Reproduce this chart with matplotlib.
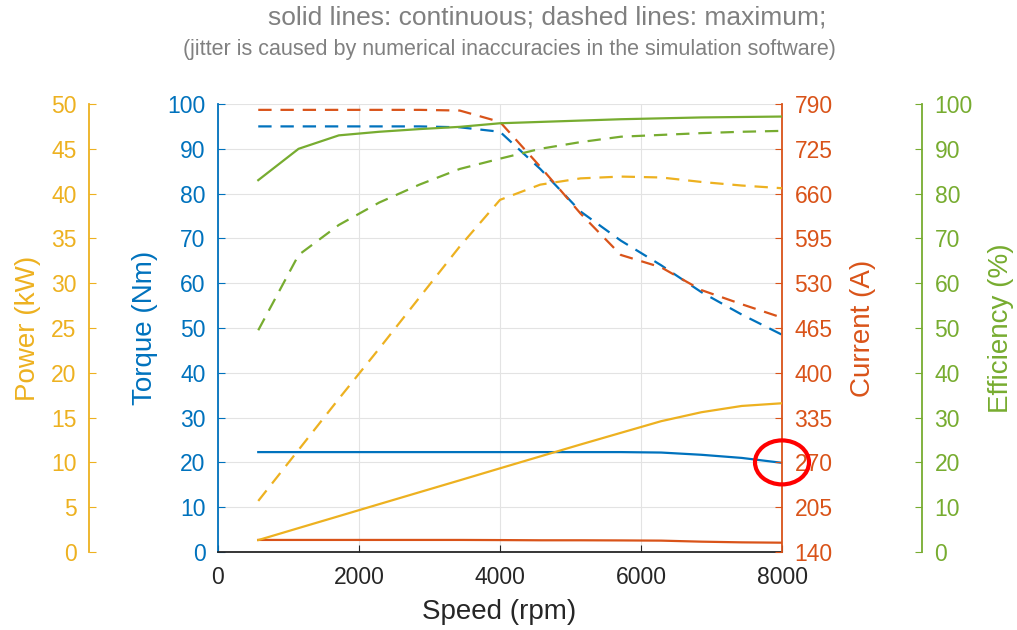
import matplotlib
matplotlib.use("Agg")
import matplotlib.pyplot as plt
from matplotlib.patches import Ellipse

# operating points (rpm)
speed = [571, 1143, 1714, 2286, 2857, 3429, 4000, 4571, 5143, 5714, 6286, 6857, 7429, 8000]

# continuous
torque_cont = [22.3, 22.3, 22.3, 22.3, 22.3, 22.3, 22.3, 22.3, 22.3, 22.3, 22.2, 21.7, 21.0, 19.9]
power_cont = [1.33, 2.67, 4.0, 5.34, 6.67, 8.0, 9.34, 10.67, 12.0, 13.3, 14.6, 15.6, 16.3, 16.6]
current_cont = [157.5, 157.5, 157.5, 157.5, 157.5, 157.5, 157.3, 157.0, 157.0, 156.8, 156.5, 155.0, 154.0, 153.5]
eff_cont = [83.0, 90.0, 93.0, 93.8, 94.4, 94.9, 95.7, 96.0, 96.3, 96.6, 96.8, 97.0, 97.1, 97.2]

# maximum
torque_max = [95.0, 95.0, 95.0, 95.0, 95.0, 94.8, 93.8, 85.5, 76.0, 69.5, 64.0, 58.0, 53.0, 48.5]
power_max = [5.7, 11.4, 17.1, 22.7, 28.4, 34.1, 39.3, 41.0, 41.7, 41.9, 41.8, 41.3, 40.9, 40.6]
current_max = [781.5, 781.5, 781.5, 781.5, 781.5, 780.5, 764.0, 699.0, 631.0, 571.0, 553.0, 520.0, 499.5, 480.0]
eff_max = [49.5, 66.3, 73.0, 78.0, 82.0, 85.5, 87.8, 90.0, 91.5, 92.7, 93.1, 93.5, 93.8, 94.0]

xticks = [0, 2000, 4000, 6000, 8000]
torque_ticks = list(range(0, 101, 10))
power_ticks = list(range(0, 51, 5))
current_ticks = list(range(140, 791, 65))
eff_ticks = list(range(0, 101, 10))

BLUE = "#0072BD"
RED = "#D95319"
YELLOW = "#EDB120"
GREEN = "#77AC30"
GRAY = "#808080"

plt.rcParams["font.family"] = ["Liberation Sans", "DejaVu Sans"]
fs = 16.5
lfs = 20
lw = 1.6
dash = (6, 4)

fig = plt.figure(figsize=(10.17, 6.30), dpi=100)
W, H = 1017, 630
x0, x1, y0, y1 = 218, 782, 104, 552
ax = fig.add_axes([x0 / W, 1 - y1 / H, (x1 - x0) / W, (y1 - y0) / H])


def fx(px):
    # pixel column -> axes fraction
    return (px - x0) / (x1 - x0)


ax_c = ax.twinx()
ax_p = ax.twinx()
ax_e = ax.twinx()

# torque (main)
ax.plot(speed, torque_cont, color=BLUE, lw=lw)
ax.plot(speed, torque_max, color=BLUE, lw=lw, ls="--", dashes=dash)
ax.set_xlim(0, 8000)
ax.set_ylim(0, 100)
ax.set_xticks(xticks)
ax.set_yticks(torque_ticks)
ax.grid(True, color="#e3e3e3", lw=0.8)
ax.set_axisbelow(True)
ax.tick_params(axis="x", direction="in", colors="#262626", labelsize=fs, length=5, pad=10)
ax.tick_params(axis="y", direction="in", colors=BLUE, labelcolor=BLUE, labelsize=fs, length=5, pad=9)
ax.set_xlabel("Speed (rpm)", fontsize=lfs, color="#262626", va="center")
ax.xaxis.set_label_coords(0.498, (y1 - 612) / (y1 - y0))
ax.set_ylabel("Torque (Nm)", fontsize=lfs, color=BLUE, va="center")
ax.yaxis.set_label_coords(fx(145), 0.5)
ax.spines["left"].set_color(BLUE)
ax.spines["left"].set_linewidth(1.3)
ax.spines["bottom"].set_color("#262626")
ax.spines["bottom"].set_linewidth(1.3)
ax.spines["top"].set_visible(False)
ax.spines["right"].set_visible(False)

# current
ax_c.plot(speed, current_cont, color=RED, lw=lw)
ax_c.plot(speed, current_max, color=RED, lw=lw, ls="--", dashes=dash)
ax_c.set_ylim(140, 790)
ax_c.set_yticks(current_ticks)
ax_c.tick_params(axis="y", direction="in", colors=RED, labelcolor=RED, labelsize=fs, length=5, pad=9)
ax_c.set_ylabel("Current (A)", fontsize=lfs, color=RED, va="center")
ax_c.yaxis.set_label_coords(fx(863), 0.5)
for s in ["left", "top", "bottom"]:
    ax_c.spines[s].set_visible(False)
ax_c.spines["right"].set_color(RED)
ax_c.spines["right"].set_linewidth(1.3)

# power (offset left axis)
ax_p.plot(speed, power_cont, color=YELLOW, lw=lw)
ax_p.plot(speed, power_max, color=YELLOW, lw=lw, ls="--", dashes=dash)
ax_p.set_ylim(0, 50)
ax_p.set_yticks(power_ticks)
ax_p.yaxis.set_ticks_position("left")
ax_p.yaxis.set_label_position("left")
ax_p.spines["left"].set_position(("axes", fx(89)))
ax_p.spines["left"].set_visible(True)
ax_p.spines["left"].set_color(YELLOW)
ax_p.spines["left"].set_linewidth(1.3)
for s in ["right", "top", "bottom"]:
    ax_p.spines[s].set_visible(False)
ax_p.tick_params(axis="y", direction="in", colors=YELLOW, labelcolor=YELLOW, labelsize=fs, length=5, pad=9)
ax_p.set_ylabel("Power (kW)", fontsize=lfs, color=YELLOW, va="center")
ax_p.yaxis.set_label_coords(fx(28), 0.5)

# efficiency (offset right axis)
ax_e.plot(speed, eff_cont, color=GREEN, lw=lw)
ax_e.plot(speed, eff_max, color=GREEN, lw=lw, ls="--", dashes=dash)
ax_e.set_ylim(0, 100)
ax_e.set_yticks(eff_ticks)
ax_e.spines["right"].set_position(("axes", fx(922)))
ax_e.spines["right"].set_color(GREEN)
ax_e.spines["right"].set_linewidth(1.3)
for s in ["left", "top", "bottom"]:
    ax_e.spines[s].set_visible(False)
ax_e.tick_params(axis="y", direction="in", colors=GREEN, labelcolor=GREEN, labelsize=fs, length=5, pad=9)
ax_e.set_ylabel("Efficiency (%)", fontsize=lfs, color=GREEN, va="center")
ax_e.yaxis.set_label_coords(fx(1001), 0.5)

for a in (ax_c, ax_p, ax_e):
    a.set_xlim(0, 8000)

# red circle highlighting the end of the continuous torque curve
ax_e.add_patch(Ellipse((1.0, 0.2), width=54 / (x1 - x0), height=44 / (y1 - y0),
                       transform=ax_e.transAxes, fill=False, edgecolor="#ff0000",
                       lw=3, clip_on=False, zorder=10))

fig.text(547 / W, 1 - 18 / H, "solid lines: continuous; dashed lines: maximum;",
         ha="center", va="center", fontsize=19, color=GRAY)
fig.text(509 / W, 1 - 50 / H,
         "(jitter is caused by numerical inaccuracies in the simulation software)",
         ha="center", va="center", fontsize=15.5, color=GRAY)

fig.savefig("out.png", dpi=100)
